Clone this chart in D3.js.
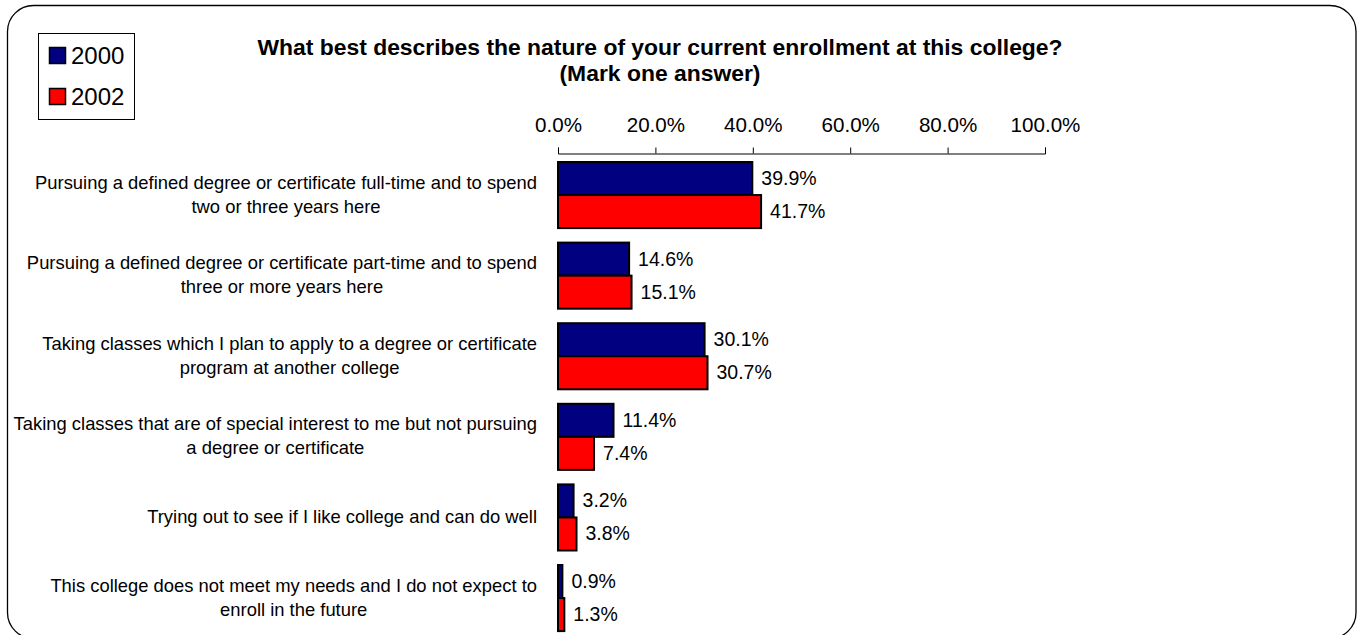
<!DOCTYPE html>
<html><head><meta charset="utf-8">
<script src="https://cdn.jsdelivr.net/npm/d3@7"></script>
<style>body{margin:0;background:#fff}svg{display:block;font-family:"Liberation Sans",Arial,sans-serif}</style>
</head><body>
<svg id="c" width="1357" height="635"></svg>
<script>
const categories = [
  ["Pursuing a defined degree or certificate full-time and to spend", "two or three years here"],
  ["Pursuing a defined degree or certificate part-time and to spend", "three or more years here"],
  ["Taking classes which I plan to apply to a degree or certificate", "program at another college"],
  ["Taking classes that are of special interest to me but not pursuing", "a degree or certificate"],
  ["Trying out to see if I like college and can do well "],
  ["This college does not meet my needs and I do not expect to", "enroll in the future"]
];
const seriesNames = ["2000", "2002"];
const values2000 = [39.9, 14.6, 30.1, 11.4, 3.2, 0.9];
const values2002 = [41.7, 15.1, 30.7, 7.4, 3.8, 1.3];
const tickValues = [0, 20, 40, 60, 80, 100];
const titleLines = ["What best describes the nature of your current enrollment at this college?", "(Mark one answer)"];
const colors = ["#000080", "#FF0000"];

const svg = d3.select("#c");
svg.append("rect").attr("x",7.5).attr("y",5.5).attr("width",1348.5).attr("height",633)
  .attr("rx",26).attr("ry",26).attr("fill","#fff").attr("stroke","#000").attr("stroke-width",1.3);

const x = d3.scaleLinear().domain([0,100]).range([558,1045]);
const idx = categories.map((d,i)=>i);
const y = d3.scaleBand().domain(idx).range([154.75,638.35]).paddingInner(0.18).paddingOuter(0.09);
const ys = d3.scaleBand().domain([0,1]).range([0,y.bandwidth()]);

// title
svg.append("g").selectAll("text").data(titleLines).join("text")
  .attr("x",660).attr("y",(d,i)=>55+i*26).attr("text-anchor","middle")
  .attr("font-size",22.9).attr("font-weight","bold").text(d=>d);

// axis
const axis = d3.axisTop(x).tickValues(tickValues).tickFormat(d=>d.toFixed(1)+"%").tickSize(6).tickPadding(16);
const ag = svg.append("g").attr("transform","translate(0,153.5)").call(axis);
ag.select(".domain").attr("stroke","#000").attr("stroke-width",1);
ag.selectAll(".tick line").attr("stroke","#000");
ag.selectAll(".tick text").attr("font-size",20.6).attr("fill","#000").attr("font-family","Liberation Sans, Arial, sans-serif");

// bars
const data = [values2000, values2002];
data.forEach((vals, s) => {
  const g = svg.append("g");
  g.selectAll("rect").data(vals).join("rect")
    .attr("x", x(0)).attr("y",(d,i)=>y(i)+ys(s))
    .attr("width", d=>x(d)-x(0)).attr("height", ys.bandwidth())
    .attr("fill", colors[s]).attr("stroke","#000").attr("stroke-width",2);
  g.selectAll("text").data(vals).join("text")
    .attr("x", d=>x(d)+9).attr("y",(d,i)=>y(i)+ys(s)+ys.bandwidth()/2+6.5)
    .attr("font-size",19.5).text(d=>d.toFixed(1)+"%");
});

// category labels
const lg = svg.append("g");
categories.forEach((lines,i)=>{
  const g = lg.append("g");
  const n = lines.length;
  const cy = y(i)+y.bandwidth()/2;
  const ts = g.selectAll("text").data(lines).join("text")
    .attr("y",(d,j)=>cy + (j-(n-1)/2)*24 + 5.5)
    .attr("font-size",18.4).attr("text-anchor","middle").text(d=>d);
  let w = 0; ts.each(function(){ w = Math.max(w, this.getComputedTextLength()); });
  ts.attr("x", 537 - w/2);
});

// legend
const leg = svg.append("g");
leg.append("rect").attr("x",38.5).attr("y",33.5).attr("width",96).attr("height",86)
  .attr("fill","#fff").attr("stroke","#000").attr("stroke-width",1);
seriesNames.forEach((nm,i)=>{
  leg.append("rect").attr("x",49.5).attr("y",47.5+i*41).attr("width",16).attr("height",16)
    .attr("fill",colors[i]).attr("stroke","#000").attr("stroke-width",1.5);
  leg.append("text").attr("x",71).attr("y",64+i*41).attr("font-size",24).text(nm);
});
</script>
</body></html>
